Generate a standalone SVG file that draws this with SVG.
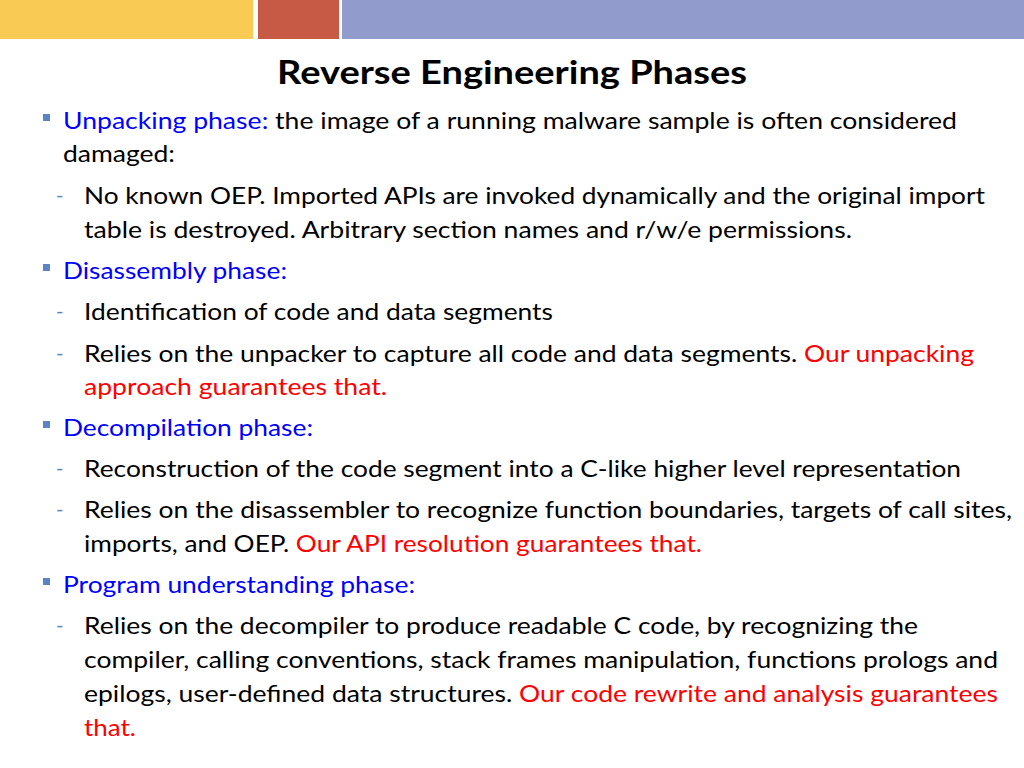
<svg xmlns="http://www.w3.org/2000/svg" width="1024" height="768" viewBox="0 0 1024 768">
<style>
.t{font-family:"Lato","Open Sans","Liberation Sans",sans-serif;font-size:24px;fill:#000}
.h{font-family:"Lato","Open Sans","Liberation Sans",sans-serif;font-size:32px;font-weight:bold;fill:#000}
.b{fill:#0000FF}
.r{fill:#FF0000}
.d{font-family:"Lato","Liberation Sans",sans-serif;font-size:20px;fill:#5B7FC0}
.sq{fill:#5B84C4}
</style>
<rect width="1024" height="768" fill="#FFFFFF"/>
<g id="bars">
<rect x="0" y="0" width="253" height="39" fill="#F9CB55"/>
<rect x="258" y="0" width="81" height="39" fill="#C65A44"/>
<rect x="342" y="0" width="682" height="39" fill="#929CCC"/>
</g>
<text class="h" x="512" y="84" text-anchor="middle" textLength="470" lengthAdjust="spacingAndGlyphs">Reverse Engineering Phases</text>
<g id="bullets">
<rect class="sq" x="43" y="114" width="7" height="7"/>
<rect class="sq" x="43" y="264" width="7" height="7"/>
<rect class="sq" x="43" y="421" width="7" height="7"/>
<rect class="sq" x="43" y="578" width="7" height="7"/>
<text class="d" x="56" y="202">-</text>
<text class="d" x="56" y="318">-</text>
<text class="d" x="56" y="360">-</text>
<text class="d" x="56" y="475">-</text>
<text class="d" x="56" y="516">-</text>
<text class="d" x="56" y="632">-</text>
</g>
<g id="text">
<text class="t" x="63" y="129" textLength="894" lengthAdjust="spacingAndGlyphs"><tspan class="b">Unpacking phase:</tspan> the image of a running malware sample is often considered</text>
<text class="t" x="63" y="162" textLength="112" lengthAdjust="spacingAndGlyphs">damaged:</text>
<text class="t" x="84" y="204" textLength="901" lengthAdjust="spacingAndGlyphs">No known OEP. Imported APIs are invoked dynamically and the original import</text>
<text class="t" x="84" y="238" textLength="768" lengthAdjust="spacingAndGlyphs">table is destroyed. Arbitrary section names and r/w/e permissions.</text>
<text class="t b" x="63" y="279" textLength="224" lengthAdjust="spacingAndGlyphs">Disassembly phase:</text>
<text class="t" x="84" y="320" textLength="469" lengthAdjust="spacingAndGlyphs">Identification of code and data segments</text>
<text class="t" x="84" y="362" textLength="890" lengthAdjust="spacingAndGlyphs">Relies on the unpacker to capture all code and data segments. <tspan class="r">Our unpacking</tspan></text>
<text class="t r" x="84" y="395" textLength="303" lengthAdjust="spacingAndGlyphs">approach guarantees that.</text>
<text class="t b" x="63" y="436" textLength="250" lengthAdjust="spacingAndGlyphs">Decompilation phase:</text>
<text class="t" x="84" y="477" textLength="877" lengthAdjust="spacingAndGlyphs">Reconstruction of the code segment into a C-like higher level representation</text>
<text class="t" x="84" y="518" textLength="928" lengthAdjust="spacingAndGlyphs">Relies on the disassembler to recognize function boundaries, targets of call sites,</text>
<text class="t" x="84" y="552" textLength="618" lengthAdjust="spacingAndGlyphs">imports, and OEP. <tspan class="r">Our API resolution guarantees that.</tspan></text>
<text class="t b" x="63" y="593" textLength="352" lengthAdjust="spacingAndGlyphs">Program understanding phase:</text>
<text class="t" x="84" y="634" textLength="834" lengthAdjust="spacingAndGlyphs">Relies on the decompiler to produce readable C code, by recognizing the</text>
<text class="t" x="84" y="668" textLength="914" lengthAdjust="spacingAndGlyphs">compiler, calling conventions, stack frames manipulation, functions prologs and</text>
<text class="t" x="84" y="702" textLength="914" lengthAdjust="spacingAndGlyphs">epilogs, user-defined data structures. <tspan class="r">Our code rewrite and analysis guarantees</tspan></text>
<text class="t r" x="84" y="736" textLength="52" lengthAdjust="spacingAndGlyphs">that.</text>
</g>
</svg>
